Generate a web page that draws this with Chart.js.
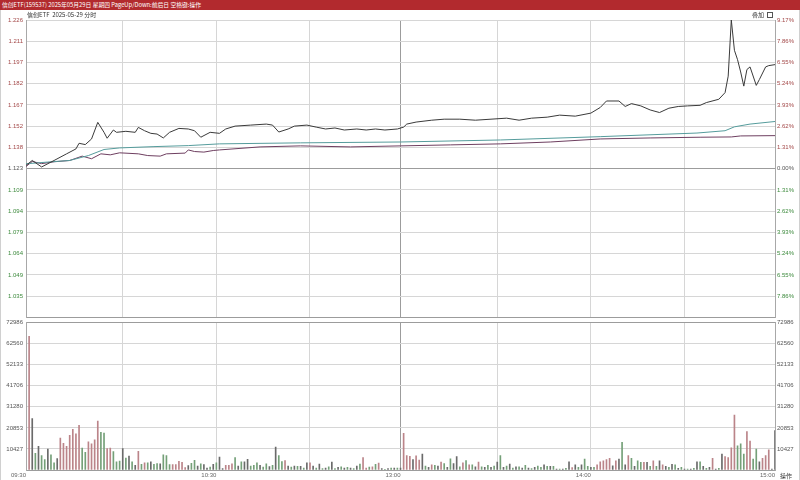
<!DOCTYPE html>
<html>
<head>
<meta charset="utf-8">
<script src="https://cdn.jsdelivr.net/npm/chart.js@4.4.1/dist/chart.umd.min.js"></script>
<style>
  html, body { margin: 0; padding: 0; background: #fff; }
  #wrap { position: relative; width: 800px; height: 480px; overflow: hidden; background: #fff;
          font-family: "Noto Sans CJK SC", "Liberation Sans", sans-serif; }
  #title { position: absolute; left: 0; top: 0; width: 798px; height: 10px; padding-left: 2px;
           background: #b22a2e; color: #fff; font-size: 5.8px; line-height: 10px; white-space: nowrap; }
  #sub { position: absolute; left: 27px; top: 11px; font-size: 6px; line-height: 8px; color: #333; white-space: nowrap; }
  #overlay { position: absolute; left: 752px; top: 11px; font-size: 6px; line-height: 8px; color: #333; white-space: nowrap; }
  #overlay span { display: inline-block; width: 4px; height: 4px; border: 1px solid #555; margin-left: 3px; vertical-align: -1px; }
  #op { position: absolute; left: 780px; top: 472px; font-size: 6px; line-height: 8px; color: #333; }
  #edgeL, #edgeR { position: absolute; top: 10px; width: 1px; height: 470px; background: #d0d0d0; }
  #edgeL { left: 0; } #edgeR { left: 799px; }
  canvas { position: absolute; left: 0; }
  #pc { top: 0; }
  #vc { top: 316px; }
</style>
</head>
<body>
<div id="wrap">
  <canvas id="pc" width="800" height="324"></canvas>
  <canvas id="vc" width="800" height="164"></canvas>
  <div id="title">信创ETF(159537) 2025年05月29日 星期四 PageUp/Down:前后日 空格键:操作</div>
  <div id="sub">信创ETF&nbsp;&nbsp;2025-05-29 分时</div>
  <div id="overlay">叠加<span></span></div>
  <div id="op">操作</div>
  <div id="edgeL"></div><div id="edgeR"></div>
</div>
<script>
// 前收盘 / 价格坐标范围
const prevClose = 1.123;
const priceMax = 1.226;
const priceMin = 1.020;
const volMax = 72986;

// 价格线（分钟，价格）
const priceTimes = [0, 2, 5, 9, 13, 16, 17, 19, 21, 23, 25, 26, 28, 29, 32, 35, 36, 38, 40, 42, 44, 46, 49, 52, 54, 56, 59, 62, 64, 67,
  72, 77, 79, 81, 84, 86, 90, 93, 96, 99, 102, 106, 109, 112, 115, 119, 121, 122, 125, 130, 134, 139, 144, 149, 154, 158, 162, 167, 171, 176,
  181, 184, 186, 190, 192, 194, 197, 200, 203, 206, 209, 212, 216, 218, 222, 224, 225, 226, 227, 228, 229, 230, 231, 232, 234, 235, 237, 238, 240];
const priceValues = [1.1253, 1.1287, 1.1242, 1.1287, 1.1333, 1.1367, 1.1406, 1.1397, 1.1436, 1.1551, 1.1482, 1.1441, 1.1498, 1.1482, 1.1489, 1.1482, 1.1516, 1.1493, 1.1475, 1.1470, 1.1443, 1.1482, 1.1509, 1.1505, 1.1493, 1.1448, 1.1482, 1.1475, 1.1505, 1.1525,
  1.1532, 1.1539, 1.1532, 1.1484, 1.1505, 1.1525, 1.1532, 1.1518, 1.1505, 1.1512, 1.1498, 1.1505, 1.1498, 1.1505, 1.1498, 1.1505, 1.1518, 1.1539, 1.1553, 1.1566, 1.1573, 1.1573, 1.1566, 1.1573, 1.1580, 1.1566, 1.1580, 1.1587, 1.1601, 1.1594,
  1.1615, 1.1654, 1.1699, 1.1699, 1.1661, 1.1681, 1.1665, 1.1637, 1.1619, 1.1649, 1.1661, 1.1665, 1.1669, 1.1688, 1.1711, 1.1757, 1.1871, 1.2260, 1.2050, 1.1985, 1.1900, 1.1802, 1.1917, 1.1935, 1.1807, 1.1848, 1.1935, 1.1944, 1.1951];

// 均价线
const avgTimes = [0, 7, 14, 20, 25, 30, 41, 52, 62, 88, 120, 152, 184, 215, 224, 227, 232, 240];
const avgValues = [1.1264, 1.1276, 1.1287, 1.1321, 1.1363, 1.1374, 1.1383, 1.1390, 1.1402, 1.1409, 1.1415, 1.1429, 1.1452, 1.1477, 1.1493, 1.1520, 1.1539, 1.1557];

// 叠加线
const overlayTimes = [0, 2, 5, 9, 14, 18, 21, 24, 27, 30, 36, 39, 43, 45, 51, 52, 54, 57, 60, 62, 75, 88, 104, 120, 136, 152, 168, 184, 200, 216, 226, 229, 240];
const overlayValues = [1.1245, 1.1280, 1.1265, 1.1278, 1.1287, 1.1317, 1.1299, 1.1333, 1.1326, 1.1340, 1.1333, 1.1321, 1.1317, 1.1333, 1.1338, 1.1360, 1.1349, 1.1345, 1.1356, 1.1360, 1.1381, 1.1388, 1.1381, 1.1388, 1.1395, 1.1402, 1.1415, 1.1436, 1.1443, 1.1448, 1.1450, 1.1457, 1.1459];

// 成交量（09:31 - 15:00 每分钟）
const volumes = [
  66200, 25500, 8300, 11700, 7200, 5100, 10400, 7500, 3600, 5600,
  15800, 13200, 11700, 17200, 20100, 17900, 22100, 10900, 8800, 14000,
  13000, 15000, 24200, 18700, 18300, 10600, 10900, 9100, 4000, 4400,
  10600, 5900, 6900, 4000, 2300, 9300, 2800, 3600, 3600, 4100,
  2800, 3200, 3000, 7500, 7200, 2700, 2700, 2700, 4300, 3800,
  1200, 2200, 3300, 4800, 2000, 3000, 2700, 1000, 1500, 2800,
  3600, 6400, 700, 2300, 2300, 3000, 6100, 1900, 4000, 4000,
  5300, 2000, 2300, 3600, 2300, 1400, 3000, 1700, 2300, 11400,
  7200, 4200, 4700, 1900, 1500, 1900, 1800, 1800, 1000, 3600,
  3600, 1900, 1000, 2900, 650, 1000, 1600, 3900, 650, 1300,
  1600, 1000, 1300, 1000, 650, 1900, 2900, 6200, 1000, 1500,
  1600, 2800, 3400, 650, 300, 650, 1000, 1000, 1000, 1000,
  18100, 7100, 6800, 5200, 7000, 4900, 7900, 1900, 1300, 2600,
  2300, 1900, 3900, 3200, 1300, 5500, 3200, 6600, 1600, 3600,
  4700, 2600, 2600, 1600, 3900, 1600, 1300, 2300, 1300, 1900,
  3900, 7100, 1300, 1900, 2900, 1000, 1600, 1600, 1000, 2300,
  1000, 650, 1300, 1900, 1300, 2500, 1800, 1800, 1800, 500,
  500, 500, 800, 4100, 1200, 2500, 1300, 2500, 5400, 1800,
  1300, 1300, 2500, 4100, 4500, 5100, 5800, 2100, 4500, 5400,
  13700, 2600, 7100, 5800, 1800, 4600, 3800, 3800, 3800, 1800,
  4600, 1800, 4600, 2500, 1800, 1300, 2800, 2500, 800, 1300,
  500, 500, 500, 800, 4100, 4100, 1800, 800, 1300, 5800,
  500, 800, 7900, 6600, 6100, 11000, 27200, 12000, 12900, 7900,
  19000, 14300, 5400, 10400, 4100, 5800, 7100, 10000, 500, 19500
];
// 涨跌: u 上涨, d 下跌, e 平
const volTrend = [
  'ukdeddedde', 'uuuuuuudd u', 'uuudduuddd', 'ededeudude', 'ddeddduuuu',
  'ueddedeede', 'deeuuudede', 'eddded dede', 'dduededede', 'uedededede',
  'dedededuud', 'uduededede', 'uuueuuedeu', 'deudedeedu', 'dudeudeded',
  'edededede d', 'ededdedede', 'dedeuededd', 'eduuuuueue', 'deudeddued',
  'udeuededed', 'ededededeu', 'edeuuuuddd', 'uuddeuuuee'
].join('').replace(/ /g, '').split('');

// 刻度标签
const priceTickLabels = ['1.226', '1.211', '1.197', '1.182', '1.167', '1.152', '1.138', '1.123', '1.109', '1.094', '1.079', '1.064', '1.049', '1.035'];
const pctTickLabels = ['9.17%', '7.86%', '6.55%', '5.24%', '3.93%', '2.62%', '1.31%', '0.00%', '1.31%', '2.62%', '3.93%', '5.24%', '6.55%', '7.86%'];
const volTickLabels = ['72986', '62560', '52133', '41706', '31280', '20853', '10427'];
const gridMinutes = [0, 31, 61, 91, 120, 151, 181, 211, 240];
const timeTickLabels = ['09:30', '', '10:30', '', '13:00', '', '14:00', '', '15:00'];

const UP = '#a34848', DOWN = '#3d8a3d', FLAT = '#555';
const GRID = '#d6d6d6', GRID_DARK = '#9c9c9c';
const barColors = { u: '#bb8489', d: '#74a078', e: '#6a6a6a' };

Chart.defaults.font.family = '"Liberation Sans", Arial, sans-serif';
Chart.defaults.font.size = 6;
Chart.defaults.color = FLAT;

const step = (priceMax - priceMin) / 14;
// 每个坐标轴都要新的 tick 对象（共享会互相覆盖 label）
const makePriceTicks = () => {
  const t = priceTickLabels.map((_, i) => ({ value: priceMax - i * step }));
  t.push({ value: priceMin });
  return t;
};
const makeVolTicks = () => {
  const t = volTickLabels.map((_, i) => ({ value: volMax - i * volMax / 7 }));
  t.push({ value: 0 });
  return t;
};

function labelColor(v) {
  if (Math.abs(v - prevClose) < step / 4) return FLAT;
  return v > prevClose ? UP : DOWN;
}

const xGrid = () => ({
  type: 'linear', min: 0, max: 240, offset: false,
  afterBuildTicks: s => { s.ticks = gridMinutes.map(v => ({ value: v })); },
  grid: { color: c => (c.tick && c.tick.value === 120) ? GRID_DARK : GRID, drawTicks: false, offset: false },
  border: { display: false }
});

new Chart(document.getElementById('pc'), {
  type: 'line',
  data: {
    datasets: [
      { data: priceTimes.map((t, i) => ({ x: t, y: priceValues[i] })), borderColor: '#3a3a3a', borderWidth: 1, pointRadius: 0, yAxisID: 'y' },
      { data: avgTimes.map((t, i) => ({ x: t, y: avgValues[i] })), borderColor: '#559c9c', borderWidth: 1, pointRadius: 0, yAxisID: 'y' },
      { data: overlayTimes.map((t, i) => ({ x: t, y: overlayValues[i] })), borderColor: '#6e3f60', borderWidth: 1, pointRadius: 0, yAxisID: 'y' }
    ]
  },
  options: {
    responsive: false, animation: false,
    layout: { padding: { top: 20, bottom: 4, left: 0, right: 0 } },
    plugins: { legend: { display: false }, tooltip: { enabled: false } },
    scales: {
      x: Object.assign(xGrid(), { ticks: { display: false }, afterFit: s => { s.height = 0; } }),
      y: {
        position: 'left', min: priceMin, max: priceMax,
        afterBuildTicks: s => { s.ticks = makePriceTicks(); },
        afterFit: s => { s.width = 26; },
        ticks: { autoSkip: false, padding: 3, callback: (v, i) => priceTickLabels[i] || '', color: c => labelColor(c.tick.value) },
        grid: { color: c => (c.index === 7 || c.index === 14) ? GRID_DARK : GRID, drawTicks: false },
        border: { color: '#a8a8a8' }
      },
      yr: {
        position: 'right', min: priceMin, max: priceMax,
        afterBuildTicks: s => { s.ticks = makePriceTicks(); },
        afterFit: s => { s.width = 25; },
        ticks: { autoSkip: false, padding: 2, callback: (v, i) => pctTickLabels[i] || '', color: c => labelColor(c.tick.value) },
        grid: { display: false, drawTicks: false },
        border: { color: '#a8a8a8' }
      }
    }
  }
});

new Chart(document.getElementById('vc'), {
  type: 'bar',
  data: {
    datasets: [{
      data: volumes.map((v, i) => ({ x: i + 1, y: v })),
      backgroundColor: volTrend.map(t => barColors[t] || barColors.e),
      barThickness: 1, borderWidth: 0
    }]
  },
  options: {
    responsive: false, animation: false,
    layout: { padding: { top: 4, bottom: 0, left: 0, right: 0 } },
    plugins: { legend: { display: false }, tooltip: { enabled: false } },
    scales: {
      x: Object.assign(xGrid(), {
        afterFit: s => { s.height = 10; },
        ticks: { autoSkip: false, maxRotation: 0, align: 'end', padding: 2, color: '#666',
                 callback: (v, i) => timeTickLabels[i] || '' }
      }),
      y: {
        position: 'left', min: 0, max: volMax,
        afterBuildTicks: s => { s.ticks = makeVolTicks(); },
        afterFit: s => { s.width = 26; },
        ticks: { autoSkip: false, padding: 3, callback: (v, i) => volTickLabels[i] || '' },
        grid: { color: c => (c.index === 0 || c.index === 7) ? GRID_DARK : GRID, drawTicks: false },
        border: { color: '#a8a8a8' }
      },
      yr: {
        position: 'right', min: 0, max: volMax,
        afterBuildTicks: s => { s.ticks = makeVolTicks(); },
        afterFit: s => { s.width = 25; },
        ticks: { autoSkip: false, padding: 2, callback: (v, i) => volTickLabels[i] || '' },
        grid: { display: false, drawTicks: false },
        border: { color: '#a8a8a8' }
      }
    }
  }
});
</script>
</body>
</html>
